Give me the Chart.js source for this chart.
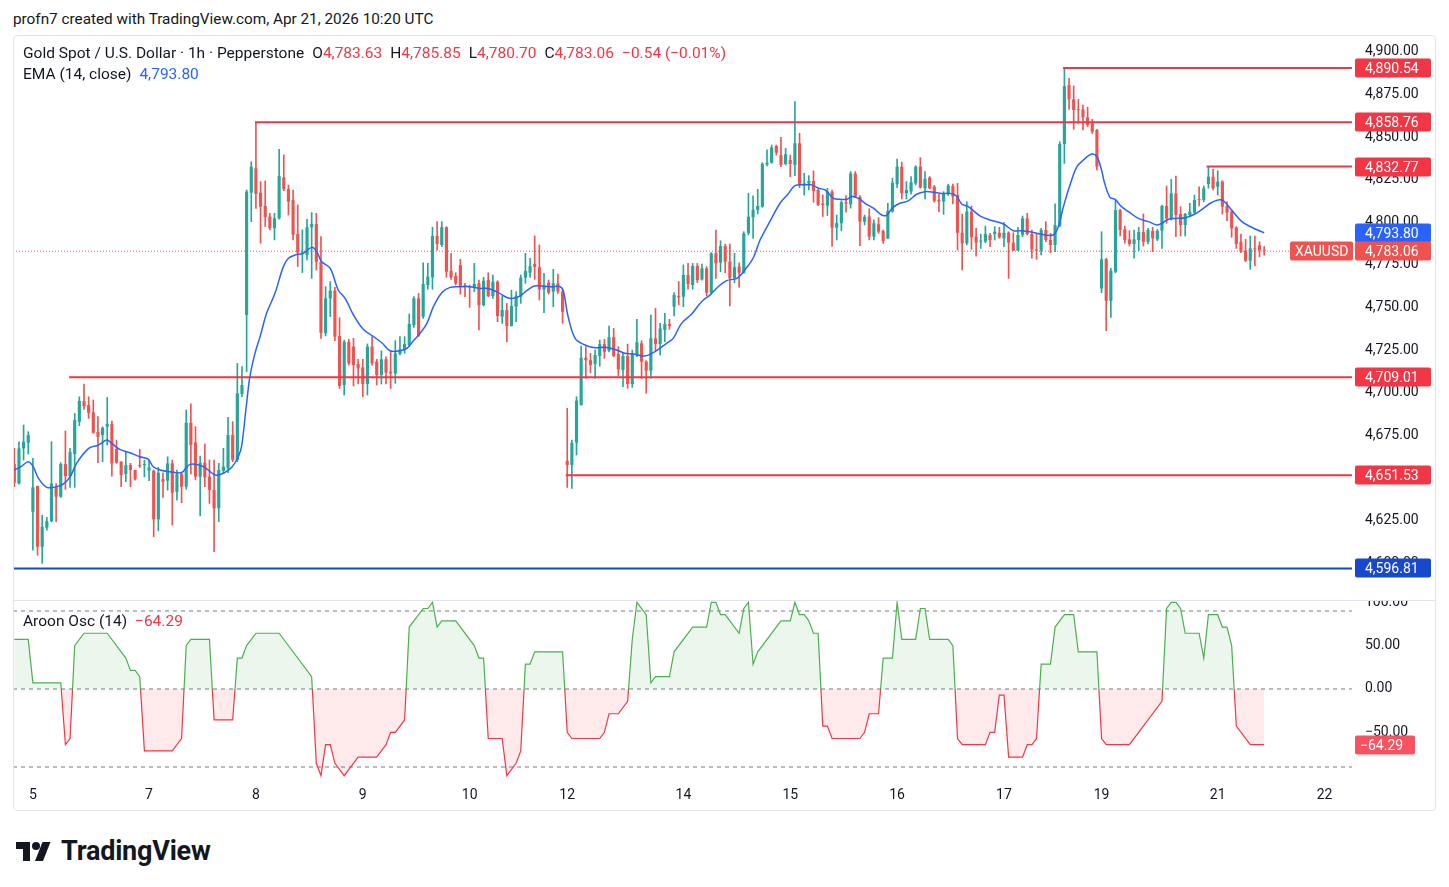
<!DOCTYPE html>
<html><head><meta charset="utf-8">
<script src="https://cdn.jsdelivr.net/npm/chart.js@4.4.1/dist/chart.umd.min.js"></script>
<style>
body{margin:0;background:#fff;width:1449px;height:887px;position:relative;overflow:hidden;font-family:Roboto,"DejaVu Sans",sans-serif;color:#131722}
#hdr{position:absolute;left:13px;top:10px;font-size:15.3px;line-height:18px}
#frame{position:absolute;left:13px;top:35px;width:1423px;height:776px;border:1px solid #e0e3eb;border-radius:4px;box-sizing:border-box;pointer-events:none}
#sep{position:absolute;left:13px;top:600px;width:1423px;height:1px;background:#e0e3eb}
#w1{position:absolute;left:13px;top:35px}
#w2{position:absolute;left:13px;top:601px}
.lg{position:absolute;left:23px;font-size:15.5px;line-height:18px;white-space:nowrap}
.r{color:#f23645}
.b{color:#2962ff}
.g{margin-left:8px}
#logo{position:absolute;left:15px;top:835px;display:flex;align-items:center}
#logo span{font-size:27px;font-weight:700;margin-left:8px;letter-spacing:-0.2px}
</style></head>
<body>
<div id="hdr">profn7 created with TradingView.com, Apr 21, 2026 10:20 UTC</div>
<div id="w1"><canvas id="c1" width="1423" height="566"></canvas></div>
<div id="w2"><canvas id="c2" width="1423" height="210"></canvas></div>
<div id="sep"></div>
<div id="frame"></div>
<div class="lg" style="top:44px">Gold Spot / U.S. Dollar · 1h · Pepperstone<span class="g">O</span><span class="r">4,783.63</span><span class="g">H</span><span class="r">4,785.85</span><span class="g">L</span><span class="r">4,780.70</span><span class="g">C</span><span class="r">4,783.06</span><span class="g r">−0.54 (−0.01%)</span></div>
<div class="lg" style="top:65px">EMA (14, close)<span class="g b">4,793.80</span></div>
<div class="lg" style="top:612px">Aroon Osc (14)<span class="g r">−64.29</span></div>
<div id="logo"><svg width="38" height="24" viewBox="0 0 36 24"><path d="M14 22H7V10H0V3h14v19z" fill="#131722"/><circle cx="20" cy="7" r="4" fill="#131722"/><path d="M27 22h-8l7.5-19h8L27 22z" fill="#131722"/></svg><span>TradingView</span></div>
<script>
// ---------- DATA ----------
const opens = [
4658.1,4646.7,4667.3,4670.6,4630.1,4645.2,4609.5,4620.7,4624.6,4644.4,
4638.9,4658.1,4651.0,4664.0,4682.9,4695.1,4692.7,4688.4,4676.9,4675.1,
4680.0,4681.6,4666.9,4659.5,4652.2,4657.5,4654.6,4657.5,4657.5,4654.2,
4654.2,4625.6,4649.3,4648.3,4658.5,4641.8,4652.3,4644.8,4682.4,4670.7,
4650.7,4658.9,4650.7,4642.9,4632.1,4654.2,4655.6,4675.2,4660.5,4699.2,
4745.6,4817.4,4831.7,4817.4,4809.6,4803.4,4796.5,4802.4,4826.4,4819.6,
4813.1,4793.2,4782.2,4780.8,4797.1,4799.0,4776.9,4734.9,4755.4,4759.9,
4733.3,4704.5,4729.9,4727.0,4716.8,4714.9,4705.1,4727.0,4718.2,4710.4,
4719.6,4712.3,4711.3,4722.7,4725.4,4728.0,4739.7,4755.4,4744.6,4763.2,
4767.7,4792.0,4786.7,4797.1,4771.6,4768.5,4774.9,4763.2,4762.6,4761.8,
4764.2,4751.4,4766.1,4756.7,4765.1,4744.6,4748.5,4739.1,4750.5,4756.3,
4767.5,4770.4,4775.5,4773.6,4760.6,4764.6,4759.3,4764.2,4759.3,4660.0,
4657.5,4670.6,4692.7,4720.5,4719.1,4716.8,4721.5,4728.5,4724.6,4732.5,
4722.7,4713.3,4721.5,4705.1,4722.1,4729.0,4718.2,4712.9,4731.9,4728.6,
4736.8,4740.3,4750.5,4756.8,4756.4,4769.1,4763.2,4774.4,4766.5,4773.0,
4758.7,4781.8,4776.3,4786.1,4776.9,4767.1,4774.0,4770.4,4793.6,4803.0,
4807.3,4809.2,4833.9,4835.0,4844.8,4839.5,4834.3,4836.6,4833.7,4846.4,
4822.0,4822.9,4824.3,4819.0,4811.0,4809.8,4818.0,4796.9,4799.5,4811.8,
4810.6,4828.6,4815.1,4800.4,4803.4,4791.6,4798.9,4795.0,4790.5,4806.3,
4822.4,4832.7,4817.1,4818.0,4822.9,4832.7,4820.0,4826.3,4821.0,4813.2,
4812.2,4816.5,4821.3,4816.0,4793.9,4787.7,4806.3,4791.6,4788.7,4788.7,
4792.6,4793.1,4793.9,4790.6,4793.9,4788.1,4783.4,4792.6,4802.3,4793.1,
4784.1,4783.4,4795.5,4789.6,4786.7,4797.8,4846.0,4880.6,4872.2,4866.3,
4866.3,4861.6,4858.1,4854.2,4761.2,4778.3,4754.0,4771.0,4807.2,4795.9,
4790.0,4787.3,4789.6,4794.3,4788.6,4794.9,4790.0,4795.1,4809.6,4802.3,
4817.0,4804.9,4798.4,4804.3,4805.7,4813.5,4813.1,4822.5,4826.8,4820.9,
4823.9,4809.6,4806.3,4796.9,4788.6,4783.4,4777.5,4784.7,4786.5,4783.63];
const highs = [
4667.3,4671.2,4681.0,4677.1,4661.4,4645.2,4628.1,4626.8,4671.2,4646.7,
4658.9,4677.5,4667.3,4687.8,4697.6,4705.1,4697.6,4695.7,4685.9,4680.0,
4697.2,4683.3,4672.2,4659.5,4665.3,4658.5,4654.6,4666.7,4660.4,4660.4,
4654.6,4656.1,4653.0,4662.4,4660.4,4654.6,4653.1,4689.8,4693.4,4680.1,
4662.8,4669.9,4660.5,4660.5,4658.5,4667.3,4685.5,4683.0,4717.2,4715.3,
4819.0,4835.6,4858.8,4823.9,4824.3,4805.3,4805.3,4842.9,4839.6,4821.9,
4819.0,4810.2,4795.5,4801.8,4805.7,4805.3,4791.6,4762.3,4765.2,4761.8,
4744.0,4730.9,4731.3,4731.9,4719.6,4719.6,4728.6,4732.9,4719.6,4724.6,
4721.1,4724.6,4730.5,4732.9,4732.9,4746.2,4756.4,4758.3,4776.3,4775.9,
4797.1,4800.4,4800.4,4797.4,4781.8,4770.4,4778.3,4764.2,4763.2,4775.9,
4766.1,4767.7,4770.4,4769.1,4765.7,4756.7,4752.4,4760.2,4759.3,4769.1,
4781.8,4778.8,4792.0,4786.7,4770.0,4766.1,4772.4,4769.6,4760.6,4690.8,
4672.2,4697.6,4727.4,4727.0,4723.1,4725.0,4730.9,4731.3,4739.1,4737.7,
4727.0,4723.1,4728.5,4725.0,4743.1,4730.5,4718.8,4745.6,4749.5,4740.7,
4746.6,4743.1,4758.7,4765.2,4775.0,4775.9,4775.9,4775.9,4775.5,4774.0,
4782.2,4795.5,4789.2,4787.3,4787.3,4781.8,4776.3,4794.5,4817.0,4815.5,
4819.4,4835.0,4842.5,4845.4,4845.4,4849.9,4843.5,4839.5,4870.9,4852.3,
4828.8,4827.4,4830.2,4819.6,4816.1,4820.0,4819.0,4804.3,4812.6,4815.7,
4829.8,4829.8,4815.7,4804.3,4807.9,4801.4,4802.8,4795.5,4811.2,4825.9,
4837.2,4835.3,4823.9,4826.9,4833.3,4838.0,4829.8,4826.9,4821.6,4816.5,
4818.0,4822.4,4822.5,4822.9,4804.9,4812.1,4809.6,4796.5,4793.1,4797.8,
4793.5,4797.5,4797.1,4799.8,4794.5,4793.9,4797.1,4803.7,4805.3,4795.5,
4793.5,4796.5,4800.4,4793.5,4810.8,4847.4,4890.5,4884.5,4880.0,4872.2,
4868.9,4867.5,4860.5,4854.6,4794.5,4778.9,4773.0,4813.1,4807.6,4797.8,
4795.1,4795.5,4797.1,4804.9,4796.5,4797.1,4795.9,4810.2,4821.3,4825.2,
4827.2,4809.2,4805.3,4811.2,4816.0,4820.9,4821.3,4832.8,4831.1,4830.3,
4824.5,4812.1,4806.8,4797.5,4793.1,4790.0,4792.0,4792.0,4788.6,4785.85];
const lows = [
4644.8,4646.3,4660.4,4664.0,4607.6,4604.6,4599.8,4619.3,4624.2,4624.2,
4638.5,4643.2,4644.4,4644.4,4680.6,4690.2,4684.9,4676.1,4658.9,4659.5,
4669.2,4651.0,4658.5,4644.8,4647.7,4644.8,4648.7,4656.1,4650.6,4648.3,
4615.4,4618.9,4638.5,4642.8,4622.3,4636.9,4635.4,4643.3,4652.3,4648.8,
4627.6,4644.8,4635.0,4606.7,4624.3,4652.7,4653.1,4659.5,4659.5,4697.7,
4712.3,4800.4,4808.2,4787.7,4797.5,4795.5,4789.7,4801.8,4818.6,4804.3,
4789.7,4774.0,4770.5,4777.9,4767.1,4772.0,4731.9,4733.3,4744.6,4730.5,
4702.5,4698.6,4716.2,4703.9,4705.1,4697.6,4698.6,4716.2,4704.5,4705.1,
4705.1,4702.5,4705.5,4722.1,4723.1,4727.0,4738.3,4732.9,4743.6,4760.7,
4760.7,4783.7,4785.7,4767.7,4766.5,4763.2,4757.9,4756.4,4750.1,4759.3,
4736.8,4750.9,4756.3,4755.4,4741.7,4740.7,4729.9,4739.1,4741.7,4752.4,
4764.2,4767.7,4766.5,4754.4,4746.9,4757.9,4750.5,4758.3,4740.7,4644.4,
4643.8,4663.4,4692.7,4708.4,4711.7,4708.4,4715.6,4720.1,4724.0,4721.1,
4709.8,4703.5,4702.5,4703.1,4721.1,4708.4,4699.6,4708.4,4724.7,4722.1,
4729.9,4737.2,4745.0,4751.5,4750.5,4760.7,4760.7,4764.6,4766.1,4756.8,
4757.9,4767.1,4771.0,4770.4,4750.9,4764.6,4761.9,4770.1,4792.6,4790.6,
4804.9,4808.8,4833.1,4834.6,4839.5,4832.7,4833.7,4826.8,4827.4,4820.4,
4816.1,4819.0,4811.8,4809.8,4803.4,4804.0,4785.8,4789.7,4795.0,4805.9,
4808.3,4814.5,4786.3,4798.5,4789.7,4789.7,4793.6,4787.7,4790.3,4805.9,
4820.4,4813.7,4813.7,4816.5,4822.0,4820.0,4813.7,4819.6,4811.8,4806.3,
4804.7,4815.7,4810.8,4783.8,4772.0,4786.7,4784.1,4780.2,4784.7,4788.1,
4785.7,4789.6,4790.6,4785.7,4767.1,4783.4,4783.4,4791.6,4792.6,4778.9,
4778.3,4780.8,4788.6,4782.2,4782.8,4797.5,4834.6,4866.3,4854.6,4858.1,
4854.2,4856.2,4852.2,4830.7,4758.7,4736.4,4744.2,4770.4,4792.0,4787.7,
4786.1,4778.9,4783.4,4786.1,4787.3,4782.8,4789.2,4784.7,4799.4,4801.4,
4791.6,4792.0,4792.0,4803.3,4805.3,4809.6,4812.1,4820.0,4819.0,4816.0,
4804.9,4801.0,4791.2,4784.7,4782.2,4776.9,4772.4,4774.4,4779.8,4780.70];
const closes = [
4647.1,4667.3,4671.2,4675.1,4644.4,4609.5,4621.3,4624.6,4646.7,4638.9,
4658.1,4651.0,4665.1,4683.9,4695.1,4692.1,4688.2,4676.5,4674.1,4679.4,
4681.6,4658.5,4658.9,4651.6,4657.5,4654.6,4649.1,4656.9,4658.1,4656.1,
4625.6,4653.0,4647.7,4658.5,4641.3,4652.2,4644.8,4682.4,4669.3,4650.7,
4658.9,4650.3,4642.9,4632.1,4654.6,4656.6,4675.2,4660.5,4699.6,4704.5,
4818.0,4832.7,4816.7,4809.2,4803.0,4796.5,4802.4,4827.2,4819.4,4812.2,
4792.6,4782.2,4782.8,4797.1,4799.0,4776.9,4735.2,4755.4,4759.9,4732.9,
4703.9,4729.9,4717.2,4716.2,4714.3,4705.1,4727.0,4717.2,4710.4,4719.6,
4711.7,4711.3,4723.1,4725.4,4728.6,4740.3,4755.4,4733.3,4763.8,4768.1,
4792.0,4787.3,4797.1,4771.0,4767.7,4764.2,4762.6,4762.2,4761.8,4763.8,
4751.4,4765.7,4756.7,4765.1,4745.0,4748.5,4739.1,4750.9,4756.7,4767.5,
4771.4,4774.3,4773.9,4760.6,4763.2,4758.7,4764.2,4759.3,4747.5,4657.5,
4670.6,4695.3,4720.5,4719.1,4716.2,4722.1,4728.5,4724.0,4732.5,4721.5,
4713.7,4721.5,4705.1,4722.7,4729.6,4718.2,4712.9,4731.9,4728.6,4737.8,
4740.3,4739.1,4757.4,4756.0,4769.1,4763.8,4774.4,4766.1,4773.0,4758.7,
4781.8,4775.9,4786.1,4776.9,4767.1,4773.6,4770.4,4793.6,4803.3,4807.3,
4809.6,4834.3,4835.0,4844.0,4840.9,4833.7,4840.0,4834.3,4846.4,4822.4,
4822.9,4824.3,4818.4,4810.2,4810.2,4818.0,4796.9,4799.5,4811.8,4811.0,
4828.6,4815.1,4800.4,4803.2,4791.6,4799.5,4794.6,4789.1,4806.7,4823.3,
4832.7,4817.1,4819.0,4823.5,4832.7,4820.4,4825.5,4820.0,4812.6,4812.2,
4817.1,4821.6,4815.1,4793.9,4787.7,4806.3,4791.2,4788.1,4789.2,4793.1,
4789.6,4794.5,4791.2,4793.9,4788.1,4783.4,4792.6,4802.3,4793.1,4784.1,
4783.4,4795.5,4789.6,4786.7,4798.4,4846.0,4880.0,4872.2,4866.0,4865.9,
4861.6,4857.1,4853.2,4832.7,4778.3,4754.0,4771.6,4807.2,4795.5,4789.6,
4787.3,4790.0,4794.3,4788.6,4795.5,4790.6,4794.9,4809.6,4802.3,4817.0,
4804.3,4798.4,4804.9,4806.3,4813.1,4813.1,4820.0,4826.8,4820.0,4823.9,
4809.2,4805.7,4796.5,4787.3,4782.8,4777.5,4784.7,4784.1,4783.6,4783.06];

// EMA (14, close): bar position -> value
const emaIdx = [0,1.6,3,4.1,5.2,7,9.1,10.5,12,13.4,16,18.1,19.9,21,22.7,24.9,27,28.8,29.9,31.4,33.5,36,37.8,40.7,43.2,45,46.8,48.2,48.9,50,50.7,51.8,52.9,54.3,56.1,57.9,59,60.4,62.2,64,65.1,66.1,68,69.7,71.2,73,75.1,77.3,79.1,80.9,83,84.5,85.9,87.3,88.8,90.2,92,93.8,95.9,98.1,100.1,102,104.2,106,107.4,108.8,110.3,111.9,113.5,115.7,117.5,118.2,119.2,120.7,122.8,125,127.1,129.3,131.4,133.2,135.7,137.9,140.4,141.8,143.6,145.8,147.9,149.7,151.5,153.3,155.5,157.2,159,160.5,162.6,164.8,166.5,168,170.2,171.6,173.1,174.5,176.3,177.7,179.2,180.2,181.7,183.1,184.9,186.7,187.8,188.9,190.6,192.4,194.2,196,197.8,199.6,201.4,202.8,203.9,205.3,207.9,210,212.9,215,216.8,218.6,220.8,223.6,224.7,225.8,227.2,228.7,230.1,231.9,233,234,234.6,235.8,236.9,238.3,239.8,241.9,244.1,245.9,246.9,248.4,249.8,252,254.1,255.9,257.4,259.1,260.2,262,264.2,266.3,269];
const emaVal = [4654.6,4656.9,4659.5,4656.5,4649.7,4644.4,4644.8,4646.3,4650.6,4658.5,4667.3,4669.2,4672.2,4670.2,4666.7,4664.7,4662.4,4661.0,4656.5,4654.6,4653.6,4653.1,4657.9,4656.6,4651.7,4652.7,4656.2,4662.4,4668.3,4693.8,4709.4,4723.1,4732.9,4746.6,4758.3,4774.0,4778.9,4780.8,4781.8,4785.3,4782.8,4777.0,4773.0,4760.3,4755.4,4745.6,4737.2,4732.9,4729.3,4724.6,4724.6,4726.0,4730.5,4734.8,4740.7,4750.5,4758.7,4761.8,4762.2,4762.2,4761.2,4761.2,4758.7,4755.9,4755.4,4756.7,4759.9,4762.6,4762.6,4762.2,4762.2,4759.3,4744.6,4731.9,4728.0,4726.4,4726.6,4725.4,4723.1,4722.7,4721.5,4724.1,4729.0,4731.9,4740.7,4746.2,4753.4,4757.3,4762.2,4765.8,4767.1,4772.0,4778.9,4789.6,4800.4,4811.2,4816.5,4821.5,4822.0,4822.0,4820.0,4819.0,4814.1,4813.5,4813.5,4815.1,4814.1,4811.2,4808.3,4804.3,4804.3,4808.3,4811.2,4812.6,4816.5,4818.0,4817.7,4816.9,4817.0,4815.5,4810.8,4809.2,4803.7,4801.4,4799.0,4795.1,4795.1,4794.5,4793.1,4792.6,4797.5,4809.2,4821.9,4832.7,4836.6,4840.1,4838.5,4830.7,4823.5,4814.7,4813.5,4809.2,4806.3,4802.3,4800.4,4798.4,4799.4,4801.8,4802.3,4802.7,4804.9,4808.2,4811.2,4813.1,4812.7,4807.2,4800.4,4797.1,4793.8];

// Aroon Oscillator (14) vertices: bar position -> value
const aroonIdx = [0,3,4,10,11,12,13,15,20,24,25,26,27,28,34,36,37,38,42,43,47,48,49,50,52,57,64,65,66,67,68,69,71,74,78,80,81,82,84,85,88,89,90,91,92,95,99,100,101,102,105,106,108,109,110,111,112,118,119,120,126,127,128,130,132,133,134,136,137,138,141,142,146,149,150,151,152,153,156,157,158,159,160,165,167,168,169,170,171,172,173,174,175,176,182,183,184,186,187,189,190,191,194,195,196,197,201,202,203,204,209,210,211,212,213,214,217,218,219,220,221,223,224,226,228,229,233,234,235,240,247,248,249,250,251,252,255,256,257,259,260,261,262,263,266,269];
const aroonVal = [57.14,57.14,7.14,7.14,-64.29,-57.14,50,64.29,64.29,35.71,21.43,21.43,14.29,-71.43,-71.43,-57.14,50,57.14,57.14,-35.71,-35.71,35.71,35.71,50,64.29,64.29,14.29,-85.71,-100,-64.29,-64.29,-85.71,-100,-78.57,-78.57,-64.29,-50,-50,-35.71,71.43,92.86,92.86,100,71.43,78.57,78.57,50,35.71,35.71,-57.14,-57.14,-100,-85.71,-71.43,28.57,28.57,42.86,42.86,-50,-57.14,-57.14,-50,-28.57,-28.57,-14.29,57.14,100,85.71,7.14,14.29,14.29,42.86,71.43,71.43,100,100,85.71,85.71,64.29,92.86,100,28.57,42.86,78.57,78.57,100,85.71,85.71,78.57,64.29,64.29,-42.86,-42.86,-57.14,-57.14,-50,-28.57,-28.57,35.71,35.71,100,57.14,57.14,92.86,92.86,57.14,57.14,50,-57.14,-64.29,-64.29,-50,-50,-7.14,-7.14,-78.57,-78.57,-64.29,-64.29,-57.14,28.57,28.57,71.43,85.71,85.71,42.86,42.86,-57.14,-64.29,-64.29,-14.29,92.86,100,100,92.86,64.29,64.29,35.71,85.71,85.71,71.43,71.43,50,-42.86,-64.29,-64.29];

// Horizontal levels (price, start bar)
const levelValues = [4890.54, 4858.76, 4832.77, 4709.01, 4651.53];
const levelStarts = [225.7, 51.8, 256.6, 11.8, 118.7];
const supportValue = 4596.81;
const lastPrice = 4783.06;
const lastEma = 4793.80;
const lastAroon = -64.29;

// Axis ticks
const priceTicks = [4900,4875,4850,4825,4800,4775,4750,4725,4700,4675,4650,4625,4600];
const aroonTicks = [100,50,0,-50];
const aroonBands = [90,0,-90];
const dayIdx = [4,29,52,75,98,119,144,167,190,213,234,259,282];
const dayLabels = ['5','7','8','9','10','12','14','15','16','17','19','21','22'];

// ---------- STYLE ----------
const X_MIN = -0.28, X_MAX = 287.9;
const UP = '#26a69a', DOWN = '#ef5350';
const AXW = 84;
const FONT = 'Roboto, "DejaVu Sans", sans-serif';
Chart.defaults.font.family = FONT;
const fmt = v => (v < 0 ? '−' : '') + Math.abs(v).toLocaleString('en-US', {minimumFractionDigits: 2, maximumFractionDigits: 2});
const candleColors = opens.map((o, i) => closes[i] >= o ? UP : DOWN);

function rrect(ctx, x, y, w, h, r) {
  ctx.beginPath();
  ctx.moveTo(x + r, y); ctx.lineTo(x + w - r, y); ctx.quadraticCurveTo(x + w, y, x + w, y + r);
  ctx.lineTo(x + w, y + h - r); ctx.quadraticCurveTo(x + w, y + h, x + w - r, y + h);
  ctx.lineTo(x + r, y + h); ctx.quadraticCurveTo(x, y + h, x, y + h - r);
  ctx.lineTo(x, y + r); ctx.quadraticCurveTo(x, y, x + r, y); ctx.closePath();
}
const tagPlugin = {
  id: 'tags',
  afterDraw(chart, args, opts) {
    const {ctx, chartArea, scales: {y}} = chart;
    ctx.save();
    ctx.font = '14px ' + FONT;
    ctx.textBaseline = 'middle';
    opts.items.forEach(t => {
      const py = Math.round(y.getPixelForValue(t.value));
      const x0 = chartArea.right + t.dx;
      ctx.fillStyle = t.bg;
      rrect(ctx, x0, py - 9.5, t.w, 19, 2); ctx.fill();
      ctx.fillStyle = '#ffffff';
      ctx.fillText(t.text, x0 + t.pad, py + 1);
    });
    ctx.restore();
  }
};
const noPad = s => { s.paddingTop = 0; s.paddingBottom = 0; s.paddingLeft = 0; s.paddingRight = 0; };

const levelSets = levelValues.map((v, i) => ({
  type: 'line', data: [{x: levelStarts[i], y: v}, {x: X_MAX, y: v}],
  borderColor: '#f23645', borderWidth: 2, pointRadius: 0, order: 0
}));

new Chart(document.getElementById('c1'), {
  type: 'bar',
  data: {datasets: [
    {type: 'line', data: [{x: X_MIN, y: lastPrice}, {x: X_MAX, y: lastPrice}], borderColor: '#ef5350', borderWidth: 1, borderDash: [1, 2], pointRadius: 0, order: 3},
    {label: 'wick', data: opens.map((o, i) => ({x: i, y: [lows[i], highs[i]]})), backgroundColor: candleColors, barThickness: 1, grouped: false, order: 2},
    {label: 'body', data: opens.map((o, i) => ({x: i, y: [o, closes[i]]})), backgroundColor: candleColors, barPercentage: 0.68, categoryPercentage: 1, minBarLength: 1, grouped: false, order: 1},
    {type: 'line', data: emaIdx.map((x, i) => ({x, y: emaVal[i]})), borderColor: '#2962ff', borderWidth: 1.5, pointRadius: 0, tension: 0.35, order: 0},
    ...levelSets,
    {type: 'line', data: [{x: X_MIN, y: supportValue}, {x: X_MAX, y: supportValue}], borderColor: '#1848cc', borderWidth: 2, pointRadius: 0, order: 0}
  ]},
  options: {
    responsive: false, animation: false, devicePixelRatio: 1,
    layout: {padding: 0},
    plugins: {
      legend: {display: false}, tooltip: {enabled: false},
      tags: {items: [
        ...levelValues.map(v => ({value: v, text: fmt(v), bg: '#f23645', dx: 3, w: 76, pad: 10})),
        {value: lastEma, text: fmt(lastEma), bg: '#2962ff', dx: 3, w: 76, pad: 10},
        {value: lastPrice, text: 'XAUUSD', bg: '#ef5350', dx: -62, w: 63, pad: 5},
        {value: lastPrice, text: fmt(lastPrice), bg: '#ef5350', dx: 3, w: 76, pad: 10},
        {value: supportValue, text: fmt(supportValue), bg: '#1848cc', dx: 3, w: 76, pad: 10}
      ]}
    },
    scales: {
      x: {type: 'linear', min: X_MIN, max: X_MAX, offset: false, display: false},
      y: {
        position: 'right', min: 4577.7, max: 4909.98,
        afterBuildTicks: s => { s.ticks = priceTicks.map(v => ({value: v})); },
        afterFit: s => { s.width = AXW; noPad(s); },
        grid: {display: false, drawTicks: false}, border: {display: false},
        ticks: {callback: v => fmt(v), color: '#131722', font: {size: 14}, padding: 13}
      }
    }
  },
  plugins: [tagPlugin]
});

function aroonBorder(c) {
  const {chart} = c; const {ctx, chartArea, scales} = chart;
  if (!chartArea) return '#4caf50';
  const y0 = scales.y.getPixelForValue(0);
  const f = Math.min(Math.max((y0 - chartArea.top) / (chartArea.bottom - chartArea.top), 0), 1);
  const g = ctx.createLinearGradient(0, chartArea.top, 0, chartArea.bottom);
  g.addColorStop(0, '#4caf50'); g.addColorStop(f, '#4caf50');
  g.addColorStop(f, '#f23645'); g.addColorStop(1, '#f23645');
  return g;
}

new Chart(document.getElementById('c2'), {
  type: 'line',
  data: {datasets: [
    {data: aroonIdx.map((x, i) => ({x, y: aroonVal[i]})), borderColor: aroonBorder, borderWidth: 1.2, pointRadius: 0, tension: 0,
     fill: {target: {value: 0}, above: 'rgba(76,175,80,0.11)', below: 'rgba(242,54,69,0.11)'}, order: 0},
    ...aroonBands.map(v => ({data: [{x: X_MIN, y: v}, {x: X_MAX, y: v}], borderColor: '#787b86', borderWidth: 1, borderDash: [4, 4], pointRadius: 0, fill: false, order: 1}))
  ]},
  options: {
    responsive: false, animation: false, devicePixelRatio: 1,
    layout: {padding: 0},
    plugins: {
      legend: {display: false}, tooltip: {enabled: false},
      tags: {items: [{value: lastAroon, text: fmt(lastAroon), bg: '#f7525f', dx: 3, w: 60, pad: 5}]}
    },
    scales: {
      x: {
        type: 'linear', min: X_MIN, max: X_MAX, offset: false,
        afterBuildTicks: s => { s.ticks = dayIdx.map(v => ({value: v})); },
        afterFit: s => { s.height = 31; noPad(s); },
        grid: {display: false, drawTicks: false}, border: {display: false},
        ticks: {autoSkip: false, maxRotation: 0, callback: (v, i) => dayLabels[i], color: '#131722', font: {size: 14}, padding: 7}
      },
      y: {
        position: 'right', min: -105, max: 101.5,
        afterBuildTicks: s => { s.ticks = aroonTicks.map(v => ({value: v})); },
        afterFit: s => { s.width = AXW; noPad(s); },
        grid: {display: false, drawTicks: false}, border: {display: false},
        ticks: {callback: v => fmt(v), color: '#131722', font: {size: 14}, padding: 13}
      }
    }
  },
  plugins: [tagPlugin]
});
</script>
</body></html>
